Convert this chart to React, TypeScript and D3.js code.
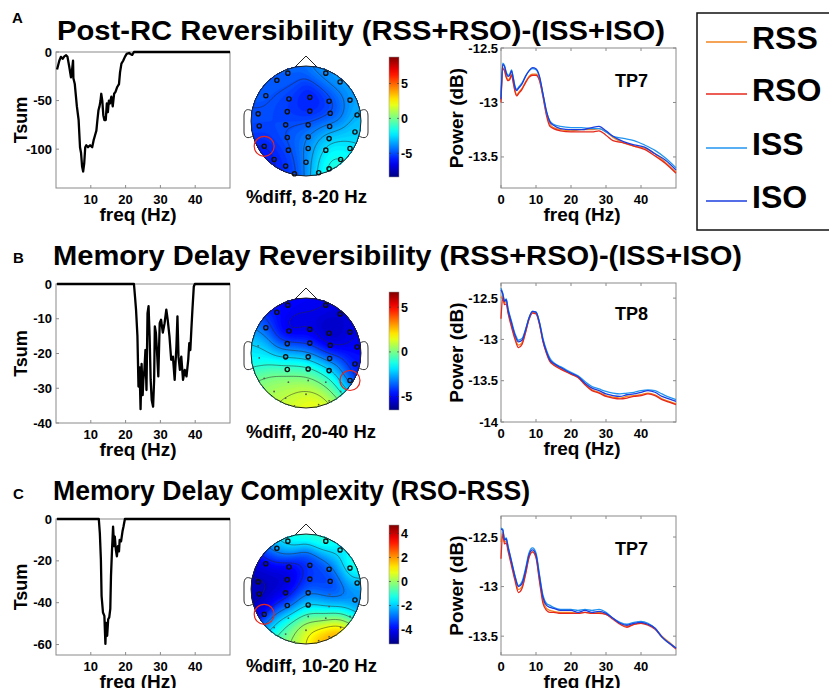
import React from 'react';
import * as d3 from 'd3';

const FONT = '"Liberation Sans", Arial, sans-serif';

// ---- Tsum traces (left column) ----
const tsumFreqA = [0.3, 0.95, 1.4, 1.9, 2.4, 2.9, 3.3, 3.8, 4.3, 4.6, 4.9, 5.0, 5.4, 6.0, 6.5, 6.9, 7.2, 7.5, 7.8, 8.1, 8.4, 8.7, 9.2, 9.8, 10.4, 10.8, 11.2, 11.6, 11.9, 12.2, 12.5, 12.8, 13.0, 13.3, 13.6, 13.9, 14.3, 14.6, 14.9, 15.2, 15.5, 15.9, 16.3, 16.7, 17.1, 17.6, 18.1, 18.4, 18.8, 19.3, 19.8, 20.3, 21.0, 21.4, 21.9, 22.4, 50];
const tsumA = [-18, -9, -5, -7, -4.5, -3.4, -5, -15, -26, -19, -9, -27, -33, -56, -70, -98, -104, -118, -123, -115, -98, -96, -98, -96, -98, -91, -86, -81, -70, -60, -56, -50, -43, -50, -65, -70, -70, -53, -62, -50, -53, -46, -56, -43, -41, -36, -33, -21, -12, -9, -5, -2, -1, -2, -3, 0, 0];

const tsumFreqB = [0.3, 22.4, 22.7, 23.0, 23.4, 23.7, 24.0, 24.3, 24.6, 24.9, 25.1, 25.4, 25.7, 26.0, 26.3, 26.6, 26.9, 27.2, 27.5, 27.9, 28.2, 28.4, 28.7, 29.0, 29.4, 29.8, 30.2, 30.7, 31.2, 31.7, 32.1, 32.6, 33.1, 33.6, 34.1, 34.6, 34.9, 35.2, 35.6, 36.0, 36.5, 37.0, 37.5, 38.0, 38.3, 38.6, 38.9, 39.2, 39.6, 39.9, 50];
const tsumB = [0, 0, -3.6, -7.4, -15, -29.5, -24, -36, -23, -32, -27.6, -24.7, -19, -30.5, -8.4, -6.4, -15, -27.6, -33.4, -35.3, -27.6, -12.2, -14, -19, -26.6, -11.3, -10.3, -14, -11.3, -7.4, -10.3, -15, -21.8, -20.9, -27.6, -18, -9.3, -20.9, -24.7, -20.9, -27.6, -24.7, -26.6, -21.8, -17, -19, -13, -7.4, -0.7, 0, 0];

const tsumFreqC = [0.3, 12.3, 12.6, 12.9, 13.1, 13.5, 13.9, 14.2, 14.4, 14.7, 15.0, 15.3, 15.6, 15.8, 16.1, 16.4, 16.7, 16.9, 17.2, 17.5, 17.8, 18.1, 18.3, 18.7, 19.1, 19.4, 19.8, 50];
const tsumC = [0, 0, -6.8, -19.4, -36.8, -44.7, -46.3, -59.7, -49.6, -55.8, -47.9, -47, -43, -27.3, -14.7, -3.6, -13, -8.4, -14.7, -17.8, -13, -15.5, -10, -10.7, -6, -3.6, 0, 0];

const tsumTicksA = [0, -50, -100];
const tsumTicksB = [0, -10, -20, -30, -40];
const tsumTicksC = [0, -20, -40, -60];
const freqTicks = [10, 20, 30, 40];
const psdFreqTicks = [0, 10, 20, 30, 40];

// ---- power spectra (right column) ----
const seriesNames = ['RSS', 'RSO', 'ISS', 'ISO'];
const seriesColors = ['#f2841e', '#e6281c', '#2094f0', '#1b3ee0'];

const psdFreqA = [0, 0.5, 1, 1.5, 2, 2.5, 3, 3.5, 4, 4.5, 5, 6, 7, 8, 9, 10, 11, 12, 13, 14, 15, 17, 20, 23, 26, 28, 30, 32, 35, 38, 41, 44, 47, 50];
const psdA_RSS = [-12.98, -12.68, -12.70, -12.76, -12.79, -12.78, -12.74, -12.81, -12.89, -12.93, -12.91, -12.87, -12.81, -12.76, -12.74, -12.74, -12.79, -12.93, -13.10, -13.20, -13.23, -13.25, -13.26, -13.25, -13.25, -13.24, -13.27, -13.32, -13.37, -13.40, -13.42, -13.47, -13.55, -13.64];
const psdA_RSO = [-13.0, -12.69, -12.71, -12.77, -12.80, -12.79, -12.75, -12.82, -12.90, -12.94, -12.92, -12.88, -12.82, -12.77, -12.75, -12.75, -12.80, -12.95, -13.12, -13.22, -13.24, -13.26, -13.27, -13.27, -13.27, -13.26, -13.30, -13.35, -13.37, -13.40, -13.43, -13.49, -13.56, -13.65];
const psdA_ISS = [-12.95, -12.64, -12.66, -12.72, -12.75, -12.74, -12.70, -12.77, -12.85, -12.88, -12.86, -12.82, -12.76, -12.71, -12.69, -12.70, -12.77, -12.93, -13.09, -13.17, -13.20, -13.22, -13.23, -13.23, -13.24, -13.24, -13.27, -13.31, -13.33, -13.35, -13.39, -13.44, -13.51, -13.60];
const psdA_ISO = [-12.97, -12.65, -12.67, -12.73, -12.76, -12.75, -12.71, -12.78, -12.86, -12.89, -12.87, -12.83, -12.76, -12.71, -12.68, -12.69, -12.76, -12.92, -13.08, -13.18, -13.21, -13.24, -13.25, -13.25, -13.23, -13.22, -13.26, -13.31, -13.36, -13.39, -13.41, -13.47, -13.53, -13.62];

const psdFreqBC = [0, 0.5, 1, 1.5, 2, 3, 4, 5, 6, 7, 8, 9, 10, 11, 12, 13, 14, 15, 17, 20, 22, 24, 26, 28, 30, 32, 34, 36, 38, 40, 42, 44, 46, 48, 50];
const psdB_RSS = [-12.50, -12.47, -12.56, -12.54, -12.66, -12.83, -12.98, -13.07, -13.04, -12.91, -12.75, -12.67, -12.68, -12.81, -13.02, -13.16, -13.26, -13.30, -13.35, -13.42, -13.46, -13.54, -13.61, -13.64, -13.68, -13.70, -13.71, -13.69, -13.68, -13.67, -13.65, -13.67, -13.72, -13.75, -13.78];
const psdB_RSO = [-12.75, -12.49, -12.58, -12.57, -12.68, -12.85, -13.00, -13.10, -13.06, -12.92, -12.76, -12.68, -12.69, -12.82, -13.03, -13.17, -13.27, -13.31, -13.36, -13.42, -13.46, -13.55, -13.62, -13.65, -13.69, -13.71, -13.72, -13.71, -13.69, -13.68, -13.66, -13.68, -13.73, -13.76, -13.79];
const psdB_ISS = [-12.38, -12.44, -12.53, -12.51, -12.62, -12.78, -12.93, -13.01, -12.99, -12.88, -12.74, -12.66, -12.67, -12.79, -12.99, -13.13, -13.23, -13.28, -13.33, -13.40, -13.44, -13.51, -13.57, -13.60, -13.63, -13.65, -13.66, -13.65, -13.64, -13.62, -13.61, -13.62, -13.66, -13.70, -13.73];
const psdB_ISO = [-12.40, -12.45, -12.54, -12.52, -12.64, -12.80, -12.95, -13.03, -13.01, -12.89, -12.74, -12.66, -12.67, -12.80, -13.01, -13.15, -13.25, -13.29, -13.34, -13.41, -13.45, -13.53, -13.59, -13.62, -13.66, -13.68, -13.69, -13.67, -13.66, -13.64, -13.62, -13.64, -13.69, -13.72, -13.75];

const psdC_RSS = [-12.55, -12.45, -12.55, -12.54, -12.62, -12.77, -12.92, -13.03, -13.00, -12.87, -12.70, -12.65, -12.70, -12.93, -13.14, -13.22, -13.24, -13.25, -13.26, -13.26, -13.27, -13.26, -13.27, -13.26, -13.28, -13.32, -13.37, -13.40, -13.38, -13.37, -13.38, -13.42, -13.50, -13.56, -13.62];
const psdC_RSO = [-12.72, -12.47, -12.57, -12.56, -12.64, -12.79, -12.94, -13.06, -13.02, -12.88, -12.71, -12.65, -12.71, -12.95, -13.17, -13.24, -13.26, -13.26, -13.27, -13.27, -13.27, -13.26, -13.27, -13.27, -13.28, -13.33, -13.38, -13.41, -13.38, -13.37, -13.39, -13.43, -13.51, -13.57, -13.63];
const psdC_ISS = [-12.41, -12.42, -12.52, -12.51, -12.59, -12.74, -12.89, -12.99, -12.95, -12.82, -12.66, -12.61, -12.66, -12.88, -13.09, -13.17, -13.19, -13.21, -13.23, -13.23, -13.24, -13.23, -13.24, -13.23, -13.26, -13.32, -13.36, -13.38, -13.36, -13.35, -13.37, -13.42, -13.51, -13.57, -13.62];
const psdC_ISO = [-12.42, -12.43, -12.53, -12.52, -12.60, -12.75, -12.90, -13.00, -12.97, -12.84, -12.68, -12.63, -12.68, -12.90, -13.11, -13.19, -13.21, -13.22, -13.24, -13.24, -13.26, -13.24, -13.26, -13.25, -13.27, -13.32, -13.37, -13.39, -13.37, -13.36, -13.38, -13.42, -13.51, -13.57, -13.62];

const psdTicksA = [-12.5, -13, -13.5];
const psdTicksB = [-12.5, -13, -13.5, -14];

// ---- scalp maps ----
const electrodeNames = ['Fp1', 'Fp2', 'AF3', 'AF4', 'F7', 'F3', 'Fz', 'F4', 'F8', 'FT7', 'FC3', 'FCz', 'FC4', 'FT8', 'T7', 'C3', 'Cz', 'C4', 'T8', 'TP7', 'CP3', 'CPz', 'CP4', 'TP8', 'P3', 'Pz', 'P4', 'P7', 'P8', 'PO3', 'POz', 'PO4', 'O1', 'O2'];
const electrodeX = [-0.33, 0.36, -0.53, 0.62, -0.73, -0.31, 0.07, 0.42, 0.80, -0.87, -0.34, 0.07, 0.44, 0.93, -0.85, -0.37, 0.04, 0.43, 0.89, -0.76, -0.34, 0.04, 0.42, 0.80, -0.32, 0.04, 0.36, -0.58, 0.63, -0.37, 0.0, 0.42, -0.21, 0.23];
const electrodeY = [-0.87, -0.87, -0.74, -0.71, -0.46, -0.40, -0.43, -0.36, -0.38, -0.13, -0.17, -0.18, -0.14, -0.11, 0.09, 0.07, 0.07, 0.10, 0.20, 0.46, 0.30, 0.29, 0.32, 0.50, 0.53, 0.50, 0.53, 0.70, 0.70, 0.82, 0.75, 0.87, 0.96, 0.94];

const topoA = [-4.4, -3.8, -4.6, -3.2, -4.6, -5.0, -5.8, -5.2, -3.4, -4.8, -5.4, -6.2, -5.4, -3.0, -5.0, -4.8, -4.6, -3.6, -2.6, -5.8, -4.6, -4.0, -2.4, -2.4, -5.0, -3.8, -1.6, -6.0, -1.4, -5.6, -3.8, -0.4, -5.2, -2.4];
const topoB = [-4.8, -4.8, -4.6, -5.4, -3.4, -6.0, -5.0, -6.2, -5.0, -2.0, -4.0, -4.4, -5.6, -4.8, -1.4, -2.0, -2.4, -3.6, -4.6, 0.0, -0.4, -0.6, -2.0, -4.8, 0.6, 0.8, 0.2, 0.8, -0.8, 1.0, 1.4, 1.2, 1.6, 2.2];
const topoC = [-0.8, -0.8, -2.4, -1.8, -4.2, -4.0, -3.4, -3.0, -0.4, -4.6, -4.8, -3.4, -3.8, -2.2, -4.6, -4.2, -2.8, -3.4, -2.8, -4.6, -3.8, -1.8, -2.2, -2.2, -1.2, -0.2, -0.4, -1.6, 3.0, -0.2, 1.4, 2.4, 0.2, 1.6];

const smallA: string[] = [];
const smallB = ['FT7', 'T7', 'TP7', 'P3', 'Pz', 'P4', 'P7', 'P8', 'PO3', 'POz', 'PO4', 'O1', 'O2'];
const smallC = ['C4', 'CP4', 'TP8', 'P3', 'Pz', 'P4', 'P7', 'P8', 'PO3', 'POz', 'PO4', 'O1', 'O2'];

const cbarTicksA = [-5, 0, 5];
const cbarTicksC = [-4, -2, 0, 2, 4];

function jet(t: number) {
  t = Math.max(0, Math.min(1, t));
  const c = (v: number) => Math.round(255 * Math.max(0, Math.min(1, v)));
  return `rgb(${c(1.5 - Math.abs(4 * t - 3))},${c(1.5 - Math.abs(4 * t - 2))},${c(1.5 - Math.abs(4 * t - 1))})`;
}

// smooth scalp field: gaussian-weighted blend of electrode values
function field(x: number, y: number, vals: number[]) {
  let num = 0, den = 0;
  for (let k = 0; k < vals.length; k++) {
    const d2 = (x - electrodeX[k]) ** 2 + (y - electrodeY[k]) ** 2;
    const w = Math.exp(-d2 / (2 * 0.22 * 0.22)) + 1e-9;
    num += w * vals[k];
    den += w;
  }
  return num / den;
}

const tickFont = { fontFamily: FONT, fontWeight: 700, fontSize: 13 } as const;

function TsumPlot({ y0, y1, freqs, vals, domain, ticks }: any) {
  const x = d3.scaleLinear().domain([0, 50]).range([56, 230]);
  const y = d3.scaleLinear().domain(domain).range([y1, y0]);
  const line = d3.line<number>().x((_, i) => x(freqs[i])).y(d => y(d));
  return (
    <g>
      <rect x={56} y={y0} width={174} height={y1 - y0} fill="white" stroke="#8a8a8a" strokeWidth={1} />
      {ticks.map((t: number) => (
        <g key={t}>
          <line x1={56} x2={59} y1={y(t)} y2={y(t)} stroke="#8a8a8a" />
          <text x={52} y={y(t) + 4.5} textAnchor="end" {...tickFont}>{t}</text>
        </g>
      ))}
      {freqTicks.map(t => (
        <g key={t}>
          <line x1={x(t)} x2={x(t)} y1={y1} y2={y1 - 3} stroke="#8a8a8a" />
          <text x={x(t)} y={y1 + 16} textAnchor="middle" {...tickFont}>{t}</text>
        </g>
      ))}
      <path d={line(vals) || ''} fill="none" stroke="#000" strokeWidth={2.3} strokeLinejoin="round" />
      <text transform={`translate(27,${(y0 + y1) / 2}) rotate(-90)`} textAnchor="middle" fontFamily={FONT} fontWeight={700} fontSize={18}>Tsum</text>
      <text x={138} y={y1 + 33} textAnchor="middle" fontFamily={FONT} fontWeight={700} fontSize={19}>freq (Hz)</text>
    </g>
  );
}

function PsdPlot({ y0, y1, freqs, series, domain, ticks, channel }: any) {
  const x = d3.scaleLinear().domain([0, 50]).range([501, 676]);
  const y = d3.scaleLinear().domain(domain).range([y1, y0]);
  const line = d3.line<number>().x((_, i) => x(freqs[i])).y(d => y(d)).curve(d3.curveMonotoneX);
  return (
    <g>
      <rect x={501} y={y0} width={175} height={y1 - y0} fill="white" stroke="#8a8a8a" strokeWidth={1} />
      {ticks.map((t: number) => (
        <g key={t}>
          <line x1={501} x2={504} y1={y(t)} y2={y(t)} stroke="#8a8a8a" />
          <line x1={676} x2={673} y1={y(t)} y2={y(t)} stroke="#8a8a8a" />
          <text x={498} y={y(t) + 4.5} textAnchor="end" {...tickFont}>{t}</text>
        </g>
      ))}
      {psdFreqTicks.map(t => (
        <g key={t}>
          <line x1={x(t)} x2={x(t)} y1={y1} y2={y1 - 3} stroke="#8a8a8a" />
          <line x1={x(t)} x2={x(t)} y1={y0} y2={y0 + 3} stroke="#8a8a8a" />
          <text x={x(t)} y={y1 + 16} textAnchor="middle" {...tickFont}>{t}</text>
        </g>
      ))}
      {series.map((s: number[], i: number) => (
        <path key={i} d={line(s) || ''} fill="none" stroke={seriesColors[i]} strokeWidth={1.3} />
      ))}
      <text x={615} y={y0 + (channel === 'TP8' ? 37 : 39)} fontFamily={FONT} fontWeight={700} fontSize={18}>{channel}</text>
      <text transform={`translate(463,${(y0 + y1) / 2}) rotate(-90)`} textAnchor="middle" fontFamily={FONT} fontWeight={700} fontSize={19}>Power (dB)</text>
      <text x={582} y={y1 + 33} textAnchor="middle" fontFamily={FONT} fontWeight={700} fontSize={19}>freq (Hz)</text>
    </g>
  );
}

function Topo({ id, cy, vals, small, marked, lo, hi, step, cbY0, cbY1, cbTicks, caption, capY, capLen }: any) {
  const cx = 306, r = 55;
  const n = 72, ext = 1.1, R = r * ext;
  const grid: number[] = new Array(n * n);
  for (let j = 0; j < n; j++) {
    for (let i = 0; i < n; i++) {
      const gx = -ext + ((i + 0.5) / n) * 2 * ext;
      const gy = -ext + ((j + 0.5) / n) * 2 * ext;
      grid[j * n + i] = field(gx, gy, vals);
    }
  }
  const color = (v: number) => jet((v - lo) / (hi - lo));
  const bandStep = (hi - lo) / 80;
  const bands = d3.contours().size([n, n]).thresholds(d3.range(lo, hi, bandStep))(grid);
  const vmin = d3.min(grid) as number, vmax = d3.max(grid) as number;
  const lineLevels = d3.range(Math.ceil(vmin / step) * step, vmax, step);
  const lines = d3.contours().size([n, n]).thresholds(lineLevels)(grid);
  const proj = d3.geoIdentity().scale((2 * R) / n).translate([cx - R, cy - R]);
  const path = d3.geoPath(proj as any);
  const cb = d3.scaleLinear().domain([lo, hi]).range([cbY1, cbY0]);
  const gradStops = d3.range(0, 1.0001, 0.05);
  const mi = electrodeNames.indexOf(marked);
  return (
    <g>
      <defs>
        <clipPath id={`clip-${id}`}><circle cx={cx} cy={cy} r={r} /></clipPath>
        <linearGradient id={`grad-${id}`} x1="0" y1="1" x2="0" y2="0">
          {gradStops.map(s => <stop key={s} offset={s} stopColor={jet(s)} />)}
        </linearGradient>
      </defs>
      {/* nose and ears */}
      <path d={`M${cx - 12},${cy - r + 2} L${cx},${cy - r - 10} L${cx + 12},${cy - r + 2}`} fill="none" stroke="#222" strokeWidth={1} />
      <path d={`M${cx - r + 1},${cy - 10} C${cx - r - 4},${cy - 13} ${cx - r - 7},${cy - 11} ${cx - r - 7},${cy - 5} L${cx - r - 7},${cy + 11} C${cx - r - 7},${cy + 17} ${cx - r - 3},${cy + 18} ${cx - r + 2},${cy + 15}`} fill="white" stroke="#333" strokeWidth={1} />
      <path d={`M${cx + r - 1},${cy - 10} C${cx + r + 4},${cy - 13} ${cx + r + 7},${cy - 11} ${cx + r + 7},${cy - 5} L${cx + r + 7},${cy + 11} C${cx + r + 7},${cy + 17} ${cx + r + 3},${cy + 18} ${cx + r - 2},${cy + 15}`} fill="white" stroke="#333" strokeWidth={1} />
      <g clipPath={`url(#clip-${id})`}>
        <rect x={cx - r} y={cy - r} width={2 * r} height={2 * r} fill={color(lo)} />
        {bands.map((b, k) => <path key={k} d={path(b as any) || ''} fill={color(b.value)} stroke={color(b.value)} strokeWidth={0.3} />)}
        {lines.map((b, k) => <path key={k} d={path(b as any) || ''} fill="none" stroke="#2a2a2a" strokeWidth={0.6} strokeOpacity={0.85} />)}
      </g>
      <circle cx={cx} cy={cy} r={r} fill="none" stroke="#222" strokeWidth={1} />
      {electrodeNames.map((nm, k) => small.includes(nm)
        ? <circle key={nm} cx={cx + electrodeX[k] * r} cy={cy + electrodeY[k] * r} r={0.9} fill="#555" />
        : <circle key={nm} cx={cx + electrodeX[k] * r} cy={cy + electrodeY[k] * r} r={2.1} fill="none" stroke="#111" strokeWidth={1.4} />)}
      <circle cx={cx + electrodeX[mi] * r} cy={cy + electrodeY[mi] * r} r={10} fill="none" stroke="#e8261c" strokeWidth={1.2} />
      {/* colorbar */}
      <rect x={389} y={cbY0} width={10} height={cbY1 - cbY0} fill={`url(#grad-${id})`} stroke="#999" strokeWidth={0.5} />
      {cbTicks.map((t: number) => (
        <g key={t}>
          <line x1={389} x2={391} y1={cb(t)} y2={cb(t)} stroke="#333" strokeWidth={0.6} />
          <line x1={399} x2={397} y1={cb(t)} y2={cb(t)} stroke="#333" strokeWidth={0.6} />
          <text x={401} y={cb(t) + 4.5} fontFamily={FONT} fontWeight={700} fontSize={12.5}>{t}</text>
        </g>
      ))}
      <text x={246} y={capY} textLength={capLen} lengthAdjust="spacingAndGlyphs" fontFamily={FONT} fontWeight={700} fontSize={18}>{caption}</text>
    </g>
  );
}

function Legend() {
  const ys = [42, 94, 148, 201];
  return (
    <g>
      <rect x={697} y={13} width={200} height={217} fill="white" stroke="#111" strokeWidth={1.5} />
      {seriesNames.map((s, i) => (
        <g key={s}>
          <line x1={706} x2={747} y1={ys[i]} y2={ys[i]} stroke={seriesColors[i]} strokeWidth={1.3} />
          <text x={752} y={ys[i] + 6.5} fontFamily={FONT} fontWeight={700} fontSize={32}>{s}</text>
        </g>
      ))}
    </g>
  );
}

export default function App() {
  const titleProps = { fontFamily: FONT, fontWeight: 700, fontSize: 27.5, lengthAdjust: 'spacingAndGlyphs' } as const;
  const letterProps = { fontFamily: FONT, fontWeight: 700, fontSize: 15 } as const;
  return (
    <svg width={829} height={688} style={{ position: 'absolute', left: 0, top: 0, background: 'white' }}>
      <rect width={829} height={688} fill="white" />
      <text x={12} y={23} {...letterProps}>A</text>
      <text x={57} y={40} textLength={608} {...titleProps}>Post-RC Reversibility (RSS+RSO)-(ISS+ISO)</text>
      <text x={13} y={263} {...letterProps}>B</text>
      <text x={53} y={265} textLength={689} {...titleProps}>Memory Delay Reversibility (RSS+RSO)-(ISS+ISO)</text>
      <text x={13} y={499} {...letterProps}>C</text>
      <text x={53} y={500} textLength={477} {...titleProps}>Memory Delay Complexity (RSO-RSS)</text>

      <TsumPlot y0={52} y1={188} freqs={tsumFreqA} vals={tsumA} domain={[-140, 0]} ticks={tsumTicksA} />
      <TsumPlot y0={284} y1={423} freqs={tsumFreqB} vals={tsumB} domain={[-40, 0]} ticks={tsumTicksB} />
      <TsumPlot y0={519} y1={655} freqs={tsumFreqC} vals={tsumC} domain={[-65, 0]} ticks={tsumTicksC} />

      <Topo id="a" cy={121} vals={topoA} small={smallA} marked="TP7" lo={-8.4} hi={8.8} step={0.8} cbY0={57} cbY1={177} cbTicks={cbarTicksA} caption="%diff, 8-20 Hz" capY={203} capLen={121} />
      <Topo id="b" cy={353} vals={topoB} small={smallB} marked="TP8" lo={-6.5} hi={6.7} step={1} cbY0={292} cbY1={410} cbTicks={cbarTicksA} caption="%diff, 20-40 Hz" capY={438} capLen={130} />
      <Topo id="c" cy={589} vals={topoC} small={smallC} marked="TP7" lo={-5.2} hi={4.7} step={0.9} cbY0={525} cbY1={644} cbTicks={cbarTicksC} caption="%diff, 10-20 Hz" capY={672} capLen={131} />

      <PsdPlot y0={48} y1={188} freqs={psdFreqA} series={[psdA_RSS, psdA_RSO, psdA_ISS, psdA_ISO]} domain={[-13.785, -12.5]} ticks={psdTicksA} channel="TP7" />
      <PsdPlot y0={283} y1={422} freqs={psdFreqBC} series={[psdB_RSS, psdB_RSO, psdB_ISS, psdB_ISO]} domain={[-14, -12.317]} ticks={psdTicksB} channel="TP8" />
      <PsdPlot y0={516} y1={655} freqs={psdFreqBC} series={[psdC_RSS, psdC_RSO, psdC_ISS, psdC_ISO]} domain={[-13.69, -12.288]} ticks={psdTicksA} channel="TP7" />

      <Legend />
    </svg>
  );
}
